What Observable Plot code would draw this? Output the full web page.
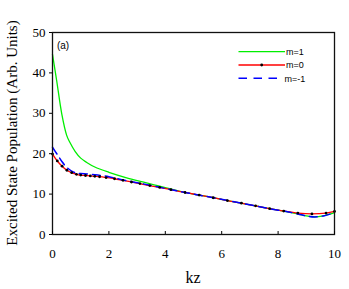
<!DOCTYPE html>
<html><head>
<meta charset="utf-8">
<script src="https://cdn.jsdelivr.net/npm/d3@7"></script>
<script src="https://cdn.jsdelivr.net/npm/@observablehq/plot@0.6"></script>
<style>body{margin:0;background:#fff;} #chart svg{display:block;}</style>
</head><body><div id="chart"></div>
<script>
// m=1 (green)
const kzM1 = [0, 0.15, 0.33, 0.5, 0.6, 0.8, 1.0, 1.2, 1.5, 2.0, 2.6, 3.2, 3.6, 4.0, 4.7, 5.2, 5.7, 6.2, 6.7, 7.2, 7.7, 8.2, 8.7, 9.0, 9.3, 9.6, 10];
const popM1 = [44.6, 38.0, 29.8, 24.6, 23.0, 20.6, 18.9, 17.9, 16.7, 15.4, 14.1, 13.0, 12.3, 11.6, 10.4, 9.75, 9.1, 8.4, 7.75, 7.1, 6.4, 5.8, 5.1, 4.6, 4.35, 4.6, 5.4];
// m=0 (red with dots)
const kzM0 = [0, 0.17, 0.34, 0.51, 0.68, 0.85, 1.0, 1.17, 1.34, 1.5, 1.67, 1.9, 2.2, 2.5, 2.8, 3.1, 3.45, 3.8, 4.2, 4.7, 5.2, 5.7, 6.2, 6.7, 7.2, 7.7, 8.2, 8.7, 9.2, 9.7, 10];
const popM0 = [19.9, 18.2, 16.9, 15.9, 15.3, 14.9, 14.7, 14.6, 14.5, 14.4, 14.3, 14.1, 13.8, 13.4, 13.0, 12.6, 12.1, 11.65, 11.1, 10.4, 9.75, 9.1, 8.4, 7.75, 7.1, 6.4, 5.8, 5.3, 5.1, 5.3, 5.7];
// m=-1 (blue dashed)
const kzM1n = [0, 0.17, 0.34, 0.51, 0.68, 0.85, 1.0, 1.5, 2.0, 2.5, 3.1, 3.8, 4.7, 5.7, 6.7, 7.7, 8.2, 8.7, 9.0, 9.3, 9.6, 10];
const popM1n = [21.6, 19.8, 18.0, 16.6, 15.7, 15.2, 15.1, 14.8, 14.3, 13.5, 12.7, 11.7, 10.4, 9.1, 7.75, 6.4, 5.8, 5.1, 4.6, 4.35, 4.6, 5.4];

const xTicks = [0, 2, 4, 6, 8, 10];
const yTicks = [0, 10, 20, 30, 40, 50];
const seriesNames = ["m=1", "m=0", "m=-1"];
const seriesColors = ["#00ee00", "#ff0000", "#0000ff"];
const yTitle = "Excited State Population (Arb. Units)";
const xTitle = "kz";
const panelTag = "(a)";

const SERIF = "Liberation Serif";
const SANS = "Liberation Sans";

const rows = (kz, pop) => kz.map((k, i) => ({kz: k, pop: pop[i]}));
const d1 = rows(kzM1, popM1), d0 = rows(kzM0, popM0), dn = rows(kzM1n, popM1n);

const chart = Plot.plot({
  width: 349, height: 289,
  marginLeft: 52, marginRight: 15, marginTop: 32, marginBottom: 55,
  style: {fontFamily: SERIF, fontSize: "13px", background: "#fff", color: "#000", overflow: "visible"},
  x: {domain: [0, 10]},
  y: {domain: [0, 50]},
  marks: [
    Plot.line(d1, {x: "kz", y: "pop", stroke: seriesColors[0], strokeWidth: 1.3, curve: "catmull-rom"}),
    Plot.line(d0, {x: "kz", y: "pop", stroke: seriesColors[1], strokeWidth: 1.3, curve: "catmull-rom"}),
    Plot.line(dn, {x: "kz", y: "pop", stroke: seriesColors[2], strokeWidth: 1.5, strokeDasharray: "8,5", curve: "catmull-rom"}),
    Plot.dot(d0, {x: "kz", y: "pop", r: 1.4, fill: "#000", stroke: null}),
    Plot.frame({stroke: "#111", strokeWidth: 1.3}),
    Plot.axisY({ticks: yTicks, tickSize: 3, tickPadding: 4, label: null, tickFormat: d => d, fontFamily: SERIF, fontSize: 13}),
    Plot.axisX({ticks: xTicks, tickSize: -3, tickPadding: 17, label: null, tickFormat: d => d, fontFamily: SERIF, fontSize: 13})
  ]
});
document.getElementById("chart").appendChild(chart);

const svg = d3.select(chart);
svg.selectAll("g[aria-label$='tick label'], g[aria-label$='tick label'] text")
  .style("font-family", SERIF).style("font-variant", "normal");

svg.append("text")
  .attr("transform", "translate(17,133) rotate(-90)")
  .attr("text-anchor", "middle")
  .attr("font-family", SERIF)
  .attr("font-size", 15)
  .attr("fill", "#000")
  .text(yTitle);
svg.append("text")
  .attr("x", 193).attr("y", 282.5)
  .attr("text-anchor", "middle")
  .attr("font-family", SERIF)
  .attr("font-size", 16)
  .attr("fill", "#000")
  .text(xTitle);
svg.append("text")
  .attr("x", 63).attr("y", 48.5)
  .attr("font-family", SANS)
  .attr("font-size", 10)
  .attr("fill", "#000")
  .text(panelTag);

// legend
const lg = svg.append("g").attr("font-family", SANS).attr("font-size", 9);
const legY = [51.7, 65, 78.3];
seriesNames.forEach((name, i) => {
  const y = legY[i];
  const ln = lg.append("line").attr("x1", 238.5).attr("x2", i === 2 ? 277 : 285)
    .attr("y1", y).attr("y2", y).attr("stroke", seriesColors[i]).attr("stroke-width", i === 2 ? 1.5 : 1.3);
  if (i === 2) ln.attr("stroke-dasharray", "8.5,6.5");
  if (i === 1) lg.append("circle").attr("cx", 261.7).attr("cy", y).attr("r", 1.4).attr("fill", "#000");
  lg.append("text").attr("x", 295).attr("y", y + 3.2).attr("fill", "#000").text(name);
});
</script>
</body></html>
